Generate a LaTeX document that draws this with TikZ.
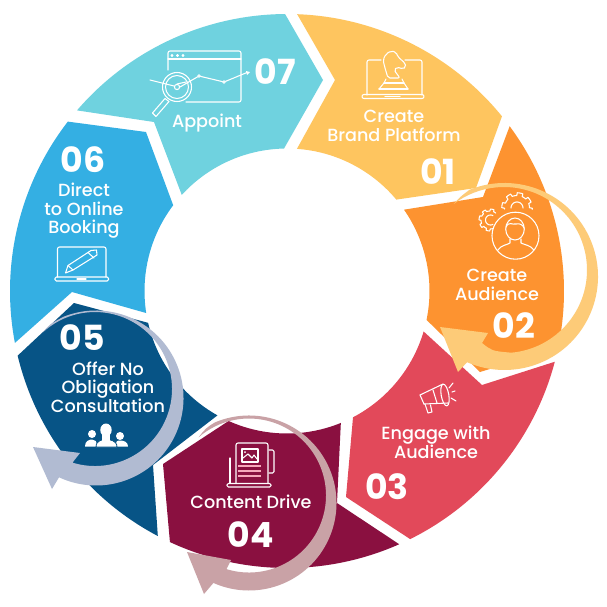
\documentclass[tikz,border=0pt]{standalone}
\usepackage{fontspec}
\setmainfont{Poppins}
\newfontfamily\labfont{Poppins Medium}
\definecolor{cA}{HTML}{FEC55F}
\definecolor{cB}{HTML}{FD9330}
\definecolor{cC}{HTML}{E2495A}
\definecolor{cD}{HTML}{8A1040}
\definecolor{cE}{HTML}{075486}
\definecolor{cF}{HTML}{34AFE3}
\definecolor{cG}{HTML}{6FD2DF}
\definecolor{aB}{HTML}{FDCB78}
\definecolor{aD}{HTML}{C9A2A6}
\definecolor{aE}{HTML}{B1BBD2}
\definecolor{pinkline}{HTML}{F7A8BC}
\tikzset{
  lab/.style={text=white,inner sep=0pt,align=center,font=\fontsize{13.2}{13.9}\labfont},
  num/.style={text=white,inner sep=0pt,font=\fontsize{26}{26}\selectfont\bfseries},
  ico/.style={draw=white,line width=0.8pt,line join=round,line cap=round},
}
\newcommand{\gearicon}[5]{% cx cy r start end
  \draw[ico] plot[domain=#4:#5,samples=90] ({#1+(#3+0.22*#3*(sin(8*\x)>0))*cos(\x)},{#2+(#3+0.22*#3*(sin(8*\x)>0))*sin(\x)});
}
\begin{document}
\begin{tikzpicture}[x=0.75pt,y=-0.75pt]
\useasboundingbox (0,0) rectangle (607,607);
\fill[white] (0,0) rectangle (607,607);
\coordinate (C) at (287,291);
% segments
\fill[cG] ([shift={(C)}]-139.3:277) arc (-139.3:-90.4:277) -- (323,80) -- ([shift={(C)}]-91.2:142.5) arc (-91.2:-137.6:142.5) -- (154,122) -- cycle;
\fill[cA] ([shift={(C)}]-87.9:277) arc (-87.9:-39.1:277) -- (476,188) -- ([shift={(C)}]-39.9:142.5) arc (-39.9:-86:142.5) -- (335,80) -- cycle;
\fill[cB] ([shift={(C)}]-36.5:277) arc (-36.5:11.9:277) -- (480,372) -- ([shift={(C)}]11.7:142.5) arc (11.7:-34.8:142.5) -- (483,197) -- cycle;
\fill[cC] ([shift={(C)}]14.8:277) arc (14.8:63.6:277) -- (346,497) -- ([shift={(C)}]62.4:142.5) arc (62.4:16.5:142.5) -- (482,385) -- cycle;
\fill[cD] ([shift={(C)}]66.1:277) arc (66.1:115:277) -- (163,464) -- ([shift={(C)}]114.2:142.5) arc (114.2:67.8:142.5) -- (337,503) -- cycle;
\fill[cE] ([shift={(C)}]166.5:277) arc (166.5:117.8:277) -- (153,465) -- ([shift={(C)}]119.2:142.5) arc (119.2:167.1:142.5) -- (74,303) -- cycle;
\fill[cF] ([shift={(C)}]169.2:277) arc (169.2:217.7:277) -- (146,132) -- ([shift={(C)}]217:142.5) arc (217:171.1:142.5) -- (72,292) -- cycle;
% circular arrows
\coordinate (B1) at (504.5,276.5); \coordinate (B2) at (504,270);
\coordinate (BT) at ([shift={(B2)}]-127.3:83);
\fill[aB] (BT) .. controls (460,197) .. ([shift={(B1)}]-112:93.5) arc (-112:113.6:93.5) -- (458,372) -- (440,327) -- (488,333) -- (482,343) .. controls (492,351) .. ([shift={(B2)}]85:83) arc (85:-127.3:83) -- cycle;
\coordinate (E1) at (96,398); \coordinate (E2) at (95,389);
\coordinate (ET) at ([shift={(E2)}]-132.9:77);
\fill[aE] (ET) .. controls (50,324) .. ([shift={(E1)}]-112:87.5) arc (-112:115:87.5) -- (52,489) -- (33,447) -- (80,453) -- ([shift={(E2)}]107:77) arc (107:-132.9:77) -- cycle;
\coordinate (D1) at (249,503); \coordinate (D2) at (249,495.5);
\coordinate (DT) at ([shift={(D2)}]-131:77);
\fill[aD] (DT) .. controls (206,428) .. ([shift={(D1)}]-113:87.5) arc (-113:114:87.5) -- (204,594) -- (187,552) -- (231,560) -- ([shift={(D2)}]107:77) arc (107:-131:77) -- cycle;
% labels
\node[lab] (t1) at (394,126) {Create\\Brand Platform};
\node[num] (n1) at (438,172) {01};
\node[lab] (t2) at (497,285) {Create\\Audience};
\node[num] (n2) at (514,326) {02};
\node[lab] (t3) at (436,442.5) {Engage with\\Audience};
\node[num] (n3) at (387,487) {03};
\node[lab] (t4) at (251,502) {Content Drive};
\node[num] (n4) at (251,535) {04};
\node[lab] (t5) at (108,387) {Offer No\\Obligation\\Consultation};
\node[num] (n5) at (82,338) {05};
\node[lab] (t6) at (84,211) {Direct\\to Online\\Booking};
\node[num] (n6) at (83,160) {06};
\node[lab] (t7) at (207,123) {Appoint};
\node[num] (n7) at (275,72) {07};
% icon 01: laptop and knight
\draw[ico,rounded corners=1.5pt] (381,60) -- (367,60) -- (367,95);
\draw[ico,rounded corners=1.5pt] (405,60) -- (422,60) -- (422,95);
\draw[ico,rounded corners=1.5pt] (362,94.5) rectangle (424,98.5);
\draw[ico] (385,96.5) -- (400,96.5);
\draw[ico,rounded corners=1.5pt] (388,78) -- (385,68) -- (383,60) -- (386,54) -- (391,51) -- (396,52) -- (398,57) -- (405,63) -- (406,67) -- (403,69) -- (397,67) -- (394,70) -- (400,78) -- cycle;
\draw[ico] (384,83) -- (404,83);
\draw[ico] (379,89) -- (408,89);
\draw[ico] (386,79) -- (384,83) (402,79) -- (404,83);
\draw[ico] (384,83) -- (379,89) (404,83) -- (408,89);
% icon 02: person and gears
\draw[ico] (515.5,235.7) circle (23.5);
\draw[ico] (515,229) ellipse (9.3 and 11);
\draw[ico] (506,227) .. controls (509,221) and (512,225) .. (516,224) .. controls (520,223) and (523,225) .. (524,228);
\draw[ico] (498,250) .. controls (501,245) and (507,245) .. (510,243) -- (510,239);
\draw[ico] (534,250) .. controls (530,245) and (525,245) .. (521,243) -- (521,239);
\gearicon{490}{220}{9}{70}{310}
\gearicon{517}{208}{12.5}{175}{365}
\draw[ico] plot[domain=180:360,samples=20] ({517+6*cos(\x)},{208+6*sin(\x)});
\draw[ico] plot[domain=60:300,samples=20] ({490.5+5*cos(\x)},{220+5*sin(\x)});
% icon 03: megaphone
\draw[ico] (420,395) -- (443,384) (424,404) -- (448,403);
\draw[ico] (420,395) -- (424,404);
\draw[ico,rotate around={10:(445,395)}] (445,395) ellipse (3.8 and 11);
\draw[ico] (433,390) -- (437,403);
\draw[ico] (425,404) -- (428,413) -- (432,412) -- (430.5,405);
\draw[ico] (449,388) -- (453,383);
\draw[ico] (452,392) -- (455,391);
\draw[ico] (451,398) -- (456,401);
% icon 04: page and laptop
\draw[ico,rounded corners=1.5pt] (236,483) -- (236,443) -- (268,443) -- (268,483);
\draw[ico,rounded corners=1pt] (230,458) -- (230,483);
\draw[ico,rounded corners=1pt] (269,450) -- (274,450) -- (274,473) -- (269,473);
\draw[ico,rounded corners=1pt] (227,483.5) rectangle (271,487);
\draw[ico] (242,449) rectangle (258,462);
\draw[ico] (243,458) -- (248,454) -- (252,458) -- (254,455) -- (257,459);
\fill[white] (245,452) circle (1);
\draw[pinkline,line width=1.2pt] (238,466) -- (261,466) (238,471) -- (261,471) (238,476) -- (261,476);
% icon 05: people
\fill[white] (92,434) circle (4);
\fill[white] (120,436) circle (4);
\fill[white] (85,446.5) .. controls (85,441) and (89,439.5) .. (92,439.5) .. controls (95,439.5) and (97,441) .. (97,446.5) -- cycle;
\fill[white] (128,446.5) .. controls (128,442) and (124,440.5) .. (120,440.5) .. controls (116,440.5) and (116,442) .. (116,446.5) -- cycle;
\fill[white,draw=cE,line width=0.6pt] (96,447) .. controls (96,440) and (103,439.5) .. (106,439.5) .. controls (109,439.5) and (117,440) .. (117,447) -- cycle;
\fill[white] (106,430) ellipse (5.7 and 6.5);
\fill[white] (102,433) rectangle (110,441);
% icon 06: laptop and pencil
\draw[ico,rounded corners=1.5pt] (57.5,277) -- (57.5,247) -- (106,247) -- (106,277);
\draw[ico,rounded corners=1pt] (55,277) rectangle (108.5,281);
\draw[ico] (77,279) -- (86,279);
\draw[ico,line join=round] (65.5,273) -- (68,265.5) -- (91,250.5) -- (96.5,250) -- (97,255) -- (73,270) -- cycle;
\draw[ico] (68,265.5) -- (73,270);
\draw[ico] (88,252.5) -- (94,258);
% icon 07: browser, chart, magnifier
\draw[ico,rounded corners=1.5pt] (168,70) -- (168,51) -- (241,51) -- (241,102) -- (186,102);
\draw[ico] (168,59) -- (241,59);
\draw[ico,line width=0.6pt] (172,55.5) circle (1) (177.5,55.5) circle (1) (183,55.5) circle (1);
\draw[ico] (150,80) -- (174,86);
\draw[ico] (180,87) -- (199,76) -- (224,82) -- (247,72.5);
\fill[white] (250,72) -- (246,71) -- (247,75) -- cycle;
\fill[cG,draw=white,line width=0.7pt] (199,76) circle (1.3) (224,82) circle (1.3);
\draw[ico] (177,87) circle (14.5) (177,87) circle (11.5) (177,87) circle (2.6);
\draw[ico] (177,84) -- (186,82);
\draw[ico] (152.5,113) -- (165,98.5) -- (169,101.5) -- (156,116.5) -- cycle;
\end{tikzpicture}
\end{document}
